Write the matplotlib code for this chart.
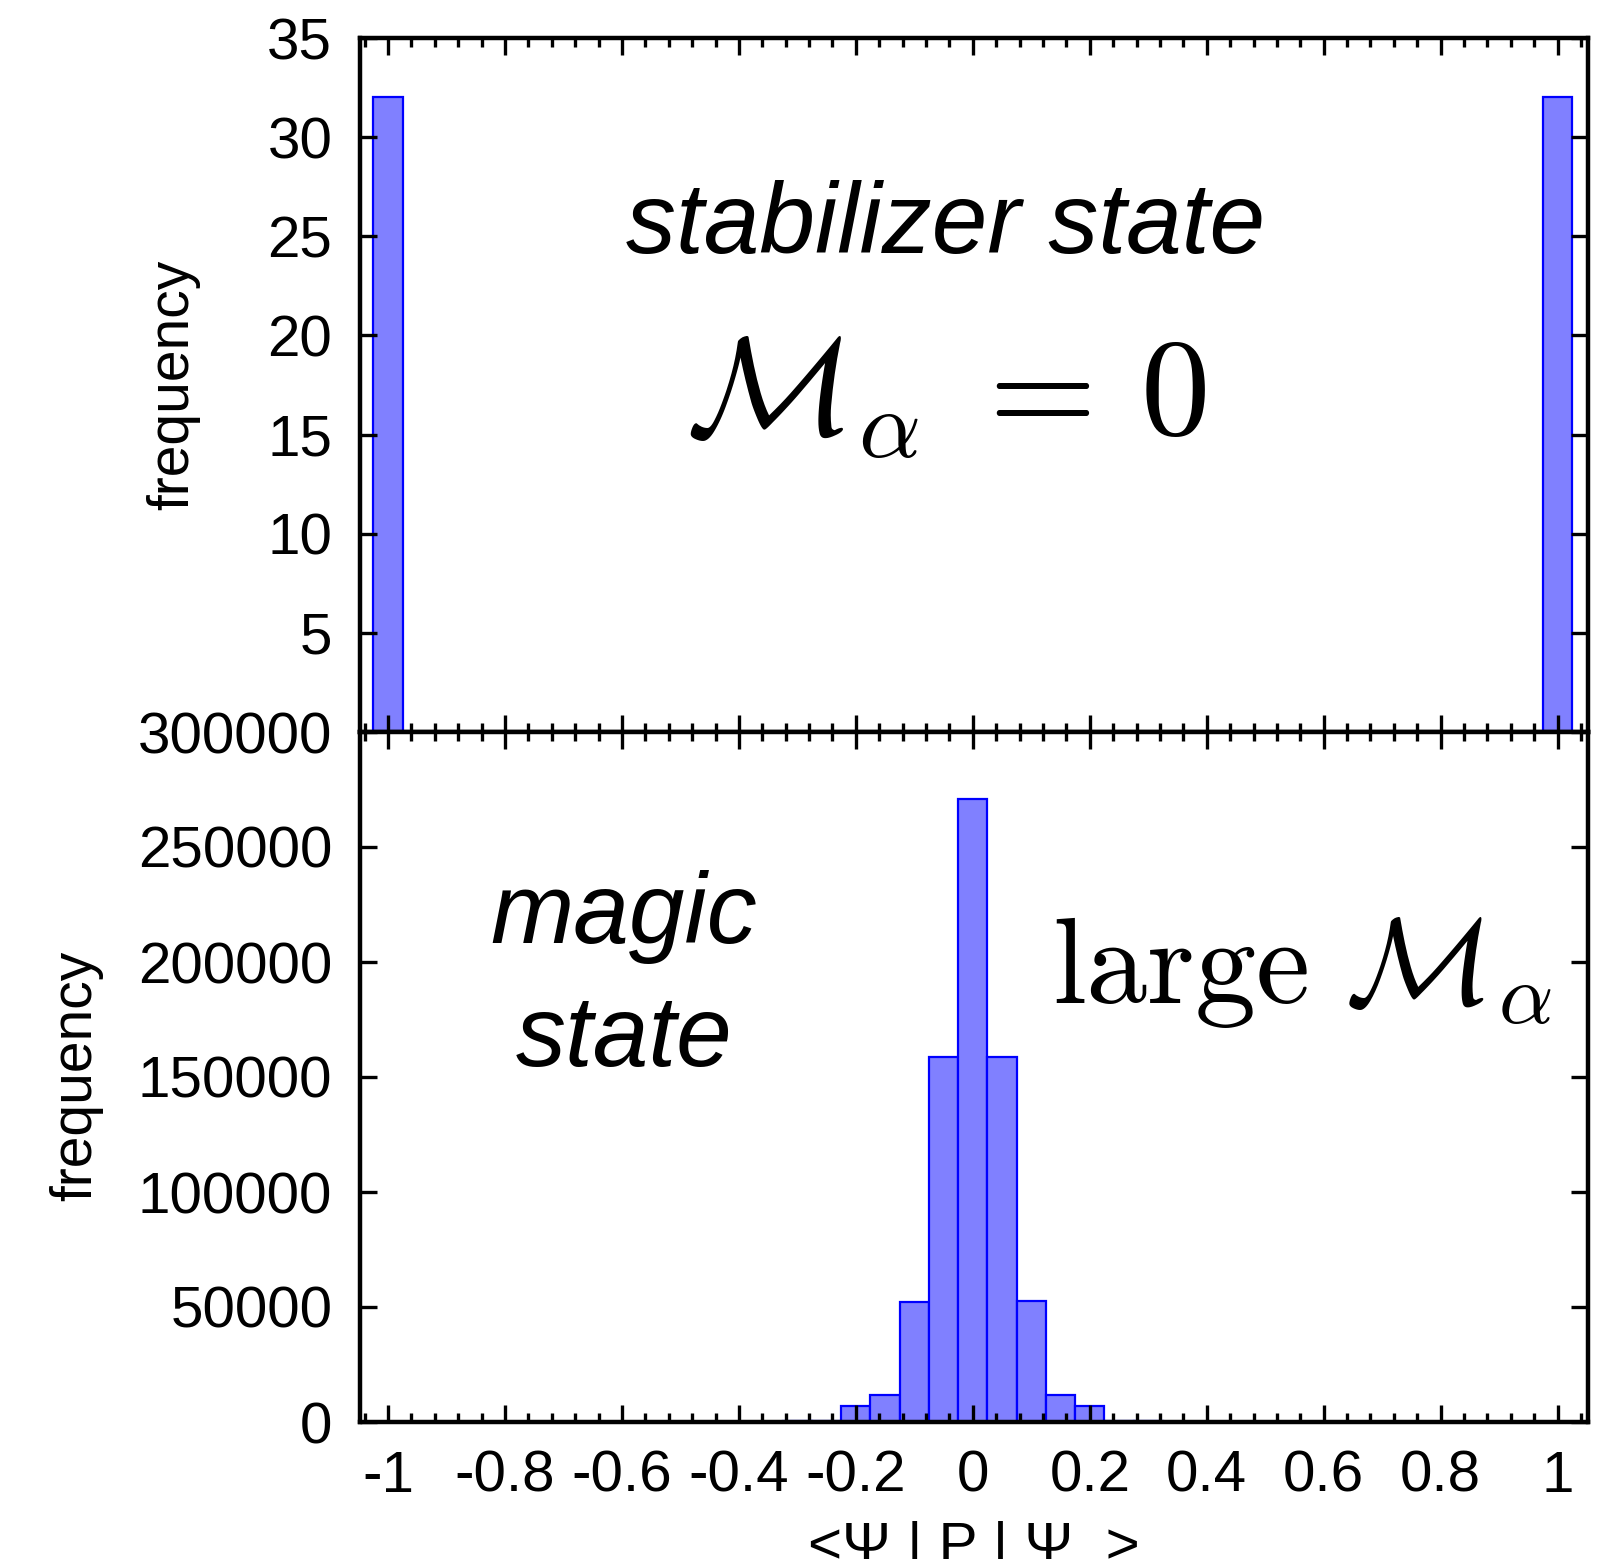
import matplotlib
matplotlib.use("Agg")
import matplotlib.pyplot as plt
from matplotlib.ticker import AutoMinorLocator, FixedLocator

plt.rcParams['font.family'] = ['Liberation Sans', 'DejaVu Sans']
plt.rcParams['mathtext.fontset'] = 'cm'

# ---- data ----
stab_centers = [-1.0, 1.0]
stab_counts = [32, 32]

magic_centers = [-0.30, -0.25, -0.20, -0.15, -0.10, -0.05, 0.0, 0.05, 0.10, 0.15, 0.20, 0.25, 0.30]
magic_counts = [400, 600, 7000, 11800, 52000, 158500, 270800, 158500, 52800, 11800, 7000, 600, 400]

bin_width = 0.05
x_ticks = [-1, -0.8, -0.6, -0.4, -0.2, 0, 0.2, 0.4, 0.6, 0.8, 1]
x_ticklabels = ['-1', '-0.8', '-0.6', '-0.4', '-0.2', '0', '0.2', '0.4', '0.6', '0.8', '1']
top_yticks = [0, 5, 10, 15, 20, 25, 30, 35]
top_yticklabels = ['', '5', '10', '15', '20', '25', '30', '35']
bot_yticks = [0, 50000, 100000, 150000, 200000, 250000, 300000]
bot_yticklabels = ['0', '50000', '100000', '150000', '200000', '250000', '300000']

W, H = 1599, 1559
fig = plt.figure(figsize=(W / 100, H / 100), dpi=100)

def fx(px):
    return px / W

def fy(py):
    return 1 - py / H

L, R = 360, 1588
T1, MID, B2 = 38, 732, 1422
ax1 = fig.add_axes([fx(L), fy(MID), fx(R) - fx(L), fy(T1) - fy(MID)])
ax2 = fig.add_axes([fx(L), fy(B2), fx(R) - fx(L), fy(MID) - fy(B2)])

fill = '#8080ff'
edge = '#0000ff'
ax1.bar(stab_centers, stab_counts, width=bin_width, color=fill, edgecolor=edge, linewidth=1.6, zorder=1)
ax2.bar(magic_centers, magic_counts, width=bin_width, color=fill, edgecolor=edge, linewidth=1.6, zorder=1)

for ax in (ax1, ax2):
    ax.set_xlim(-1.048, 1.052)
    for s in ax.spines.values():
        s.set_linewidth(3.2)
        s.set_zorder(5)
    ax.xaxis.set_major_locator(FixedLocator(x_ticks))
    ax.xaxis.set_minor_locator(AutoMinorLocator(5))
    ax.tick_params(axis='x', which='major', direction='in', length=12, width=2.4,
                   top=True, bottom=True, labelsize=42, pad=20)
    ax.tick_params(axis='x', which='minor', direction='in', length=6.5, width=2.4,
                   top=True, bottom=True)
    ax.tick_params(axis='y', which='major', direction='in', length=12, width=2.4,
                   left=True, right=True, labelsize=42, pad=20)
    ax.tick_params(axis='y', which='minor', left=False, right=False)

ax1.set_ylim(0, 35)
ax1.set_yticks(top_yticks)
ax1.set_yticklabels(top_yticklabels)
ax1.tick_params(axis='x', labelbottom=False)

ax2.set_ylim(0, 300000)
ax2.set_yticks(bot_yticks)
ax2.set_yticklabels(bot_yticklabels)
ax2.set_xticklabels(x_ticklabels)

# labels
fig.text(fx(173), fy(385), 'frequency', rotation=90, ha='center', va='center', fontsize=41)
fig.text(fx(76), fy(1076), 'frequency', rotation=90, ha='center', va='center', fontsize=41)
fig.text(fx(974), fy(1548), '<\u03a8 | P | \u03a8  >', ha='center', va='center', fontsize=42)

# annotations
fig.text(fx(946), fy(227), 'stabilizer state', style='italic', ha='center', va='center', fontsize=72)
fig.text(fx(946), fy(398), r'$\mathcal{M}_\alpha\;=\,0$', ha='center', va='center', fontsize=100)
fig.text(fx(624), fy(943), 'magic', style='italic', ha='center', va='baseline', fontsize=72)
fig.text(fx(624), fy(1066), 'state', style='italic', ha='center', va='baseline', fontsize=72)
fig.text(fx(1302), fy(973), r'$\mathrm{large}\ \mathcal{M}_\alpha$', ha='center', va='center', fontsize=88)

fig.savefig('out.png', dpi=100)
